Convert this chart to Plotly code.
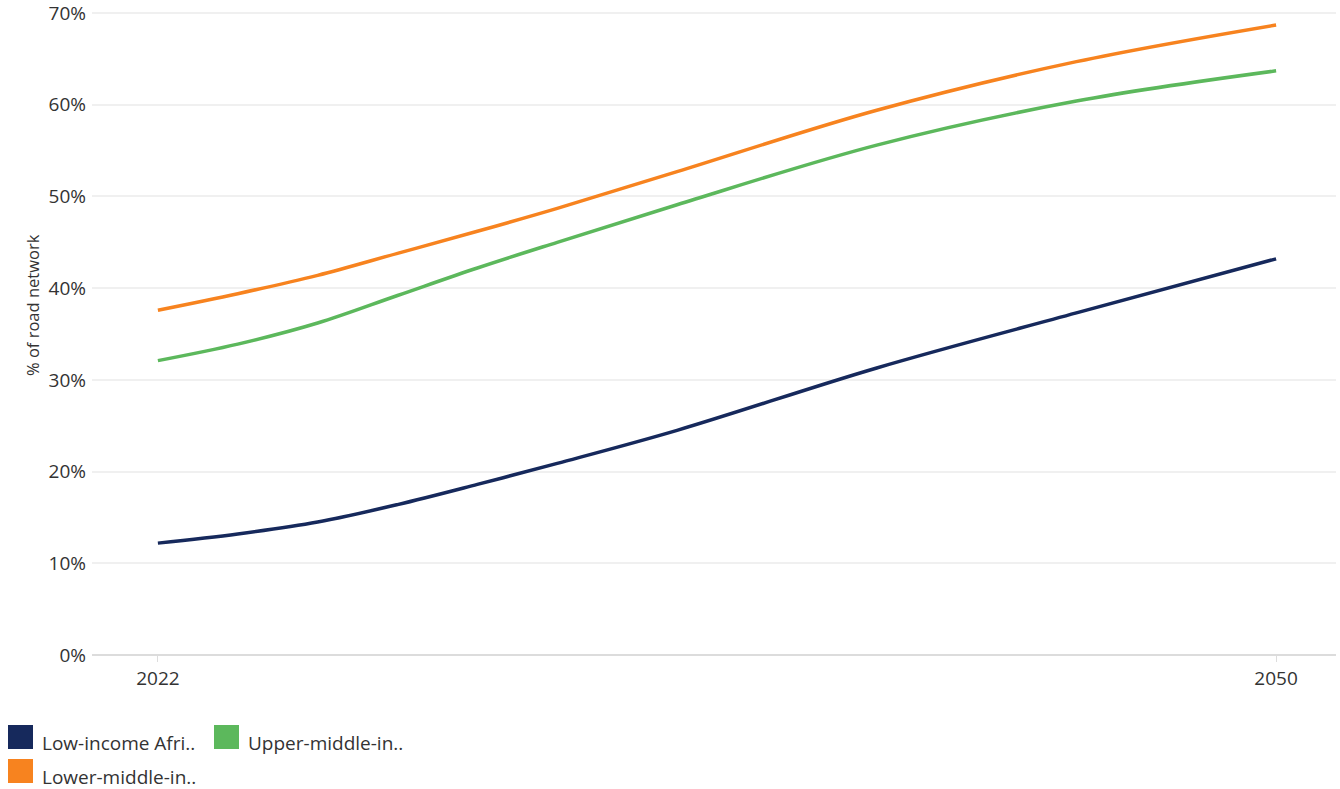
import plotly.graph_objects as go

# Share of the road network, by country income group (%)
years = [2022, 2024, 2026, 2028, 2030, 2032, 2035, 2040, 2045, 2050]
low_income = [12.2, 13.2, 14.5, 16.4, 18.6, 20.9, 24.5, 31.3, 37.3, 43.2]
lower_middle = [37.6, 39.4, 41.4, 43.8, 46.2, 48.7, 52.7, 59.4, 64.7, 68.7]
upper_middle = [32.1, 33.9, 36.2, 39.2, 42.2, 45.0, 49.1, 55.6, 60.4, 63.7]

series_names = ["Low-income Afri..", "Lower-middle-in..", "Upper-middle-in.."]
series_values = [low_income, lower_middle, upper_middle]
series_colors = ["#16295c", "#f7831f", "#5cb85c"]

y_ticks = [0, 10, 20, 30, 40, 50, 60, 70]
y_tick_labels = ["0%", "10%", "20%", "30%", "40%", "50%", "60%", "70%"]
x_ticks = [2022, 2050]

W, H = 1340, 789
ML, MR, MT, MB = 92, 4, 8, 134
font_family = "Open Sans, Noto Sans, sans-serif"
text_color = "#333333"

fig = go.Figure()
for name, vals, color in zip(series_names, series_values, series_colors):
    fig.add_trace(go.Scatter(
        x=years, y=vals, name=name, mode="lines",
        line=dict(color=color, width=3.5, shape="spline", smoothing=1.0),
        showlegend=False,
    ))

# Legend drawn as square swatches with labels below the plot
pw = W - ML - MR
ph = H - MT - MB

def px_x(x):
    return (x - ML) / pw

def px_y(y):
    return (H - MB - y) / ph

legend_slots = [
    (8, 725, 0),   # Low-income
    (8, 759, 1),   # Lower-middle
    (214, 725, 2), # Upper-middle
]
shapes = []
annotations = []
for lx, ly, idx in legend_slots:
    shapes.append(dict(
        type="rect", xref="paper", yref="paper",
        x0=px_x(lx), x1=px_x(lx + 25), y0=px_y(ly + 24), y1=px_y(ly),
        fillcolor=series_colors[idx], line=dict(width=0),
    ))
    annotations.append(dict(
        xref="paper", yref="paper", x=px_x(lx + 32), y=px_y(ly + 18),
        xanchor="left", yanchor="middle", showarrow=False,
        text=series_names[idx], font=dict(family=font_family, size=19, color=text_color),
    ))

annotations.append(dict(
    xref="paper", yref="paper", x=px_x(32), y=px_y(305),
    xanchor="center", yanchor="middle", showarrow=False, textangle=-90,
    text="% of road network", font=dict(family=font_family, size=16.5, color=text_color),
))

fig.update_layout(
    width=W, height=H,
    margin=dict(l=ML, r=MR, t=MT, b=MB, pad=0, autoexpand=False),
    paper_bgcolor="white", plot_bgcolor="white",
    font=dict(family=font_family, size=19, color=text_color),
    shapes=shapes, annotations=annotations,
    xaxis=dict(
        range=[2020.35, 2051.5], tickvals=x_ticks, ticktext=[str(t) for t in x_ticks],
        showgrid=False, zeroline=False, showline=False, automargin=False,
        ticks="outside", ticklen=6, tickcolor="#dddddd", tickwidth=1,
        tickfont=dict(size=19, color=text_color),
    ),
    yaxis=dict(
        range=[0, 70.55], tickvals=y_ticks, ticktext=y_tick_labels,
        showgrid=True, gridcolor="#f0f0f0", gridwidth=1.5,
        zeroline=True, zerolinecolor="#dcdcdc", zerolinewidth=2,
        showline=False, ticks="", ticklabelstandoff=5, automargin=False,
        ticklabeloverflow="allow",
        tickfont=dict(size=19, color=text_color),
    ),
)

fig.write_html("out.html")
